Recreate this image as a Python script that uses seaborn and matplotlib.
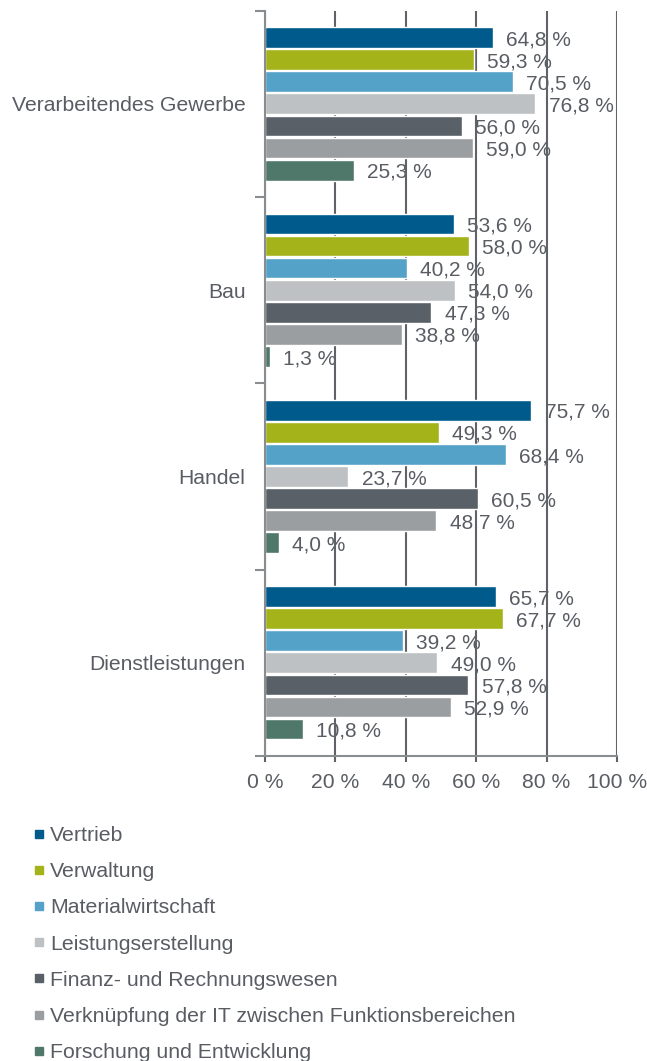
import matplotlib
matplotlib.use("Agg")
import matplotlib.pyplot as plt
from matplotlib.lines import Line2D
import numpy as np
import pandas as pd
import seaborn as sns

# ---- data ----
categories = ["Verarbeitendes Gewerbe", "Bau", "Handel", "Dienstleistungen"]
series = ["Vertrieb", "Verwaltung", "Materialwirtschaft", "Leistungserstellung",
          "Finanz- und Rechnungswesen",
          "Verknüpfung der IT zwischen Funktionsbereichen",
          "Forschung und Entwicklung"]
vals_gewerbe = [64.8, 59.3, 70.5, 76.8, 56.0, 59.0, 25.3]
vals_bau = [53.6, 58.0, 40.2, 54.0, 47.3, 38.8, 1.3]
vals_handel = [75.7, 49.3, 68.4, 23.7, 60.5, 48.7, 4.0]
vals_dienst = [65.7, 67.7, 39.2, 49.0, 57.8, 52.9, 10.8]
x_ticks = [0, 20, 40, 60, 80, 100]
x_ticklabels = ["0 %", "20 %", "40 %", "60 %", "80 %", "100 %"]

colors = ["#005a8c", "#a5b31b", "#55a2c8", "#bec1c3",
          "#5a6067", "#9b9ea0", "#50786a"]
text_color = "#595d63"

rows = []
for cat, vals in zip(categories, [vals_gewerbe, vals_bau, vals_handel, vals_dienst]):
    for s, v in zip(series, vals):
        rows.append({"Bereich": cat, "Funktion": s, "Anteil": v})
df = pd.DataFrame(rows)

sns.set_theme(style="white")
plt.rcParams["font.family"] = ["Liberation Sans", "DejaVu Sans"]

fig = plt.figure(figsize=(6.47, 10.61), dpi=100)
ax = fig.add_axes([265 / 647, 1 - 756 / 1061, (617 - 265) / 647, (756 - 10.7) / 1061])

sns.barplot(data=df, y="Bereich", x="Anteil", hue="Funktion", orient="h",
            order=categories, hue_order=series, palette=colors, saturation=1,
            width=0.83, gap=0.06, edgecolor="white", linewidth=1.0,
            legend=False, ax=ax, zorder=2)

# labels
for cont in ax.containers:
    for patch in cont.patches:
        w = patch.get_width()
        yc = patch.get_y() + patch.get_height() / 2
        ax.annotate(f"{w:.1f}".replace(".", ",") + " %", xy=(w, yc),
                    xytext=(9.5, -1.5), textcoords="offset points",
                    ha="left", va="center", fontsize=15, color=text_color,
                    zorder=0.4)

ax.set_xlim(0, 100)
ax.set_ylim(len(categories) - 0.5, -0.5)
ax.set_xticks(x_ticks)
ax.set_xticklabels(x_ticklabels)
ax.set_yticks(range(len(categories)))
ax.set_yticklabels(categories)
ax.set_yticks(np.arange(-0.5, len(categories), 1.0), minor=True)
ax.set_xlabel("")
ax.set_ylabel("")

ax.set_axisbelow(True)
ax.grid(axis="x", color="#5f6368", linewidth=1.5, zorder=0.5)
ax.grid(axis="y", visible=False)
for side in ["top", "right"]:
    ax.spines[side].set_visible(False)
for side in ["left", "bottom"]:
    ax.spines[side].set_color("#8a8d90")
    ax.spines[side].set_linewidth(1.5)

ax.tick_params(axis="y", which="major", length=0, pad=14, labelsize=15.2,
               labelcolor=text_color)
ax.tick_params(axis="y", which="minor", length=7, width=1.5, color="#8a8d90",
               left=True)
ax.tick_params(axis="x", which="major", length=4, width=1.5, color="#5f6368",
               bottom=True, pad=8, labelsize=15.2, labelcolor=text_color)

handles = [Line2D([], [], marker="s", linestyle="none", markersize=6,
                  markerfacecolor=c, markeredgecolor=c) for c in colors]
fig.legend(handles, series, loc="upper left", bbox_to_anchor=(33 / 647, 1 - 826 / 1061),
           frameon=False, fontsize=15.3, labelcolor=text_color, handlelength=0.6,
           handletextpad=0.2, labelspacing=0.81, borderaxespad=0, borderpad=0)

fig.savefig("out.png", dpi=100)
